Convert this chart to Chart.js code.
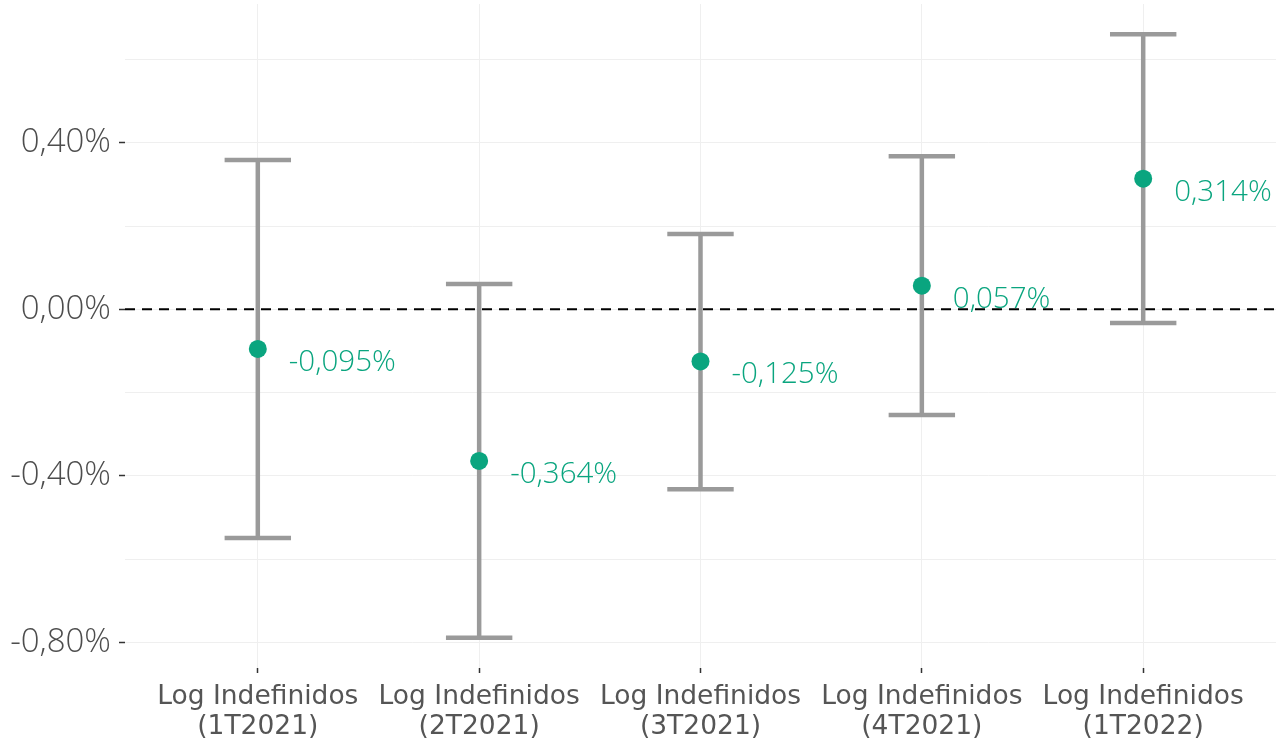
<!DOCTYPE html>
<html>
<head>
<meta charset="utf-8">
<script src="https://cdn.jsdelivr.net/npm/chart.js@4/dist/chart.umd.min.js"></script>
<style>
  html, body { margin: 0; padding: 0; background: #ffffff; }
  #wrap { width: 1277px; height: 744px; position: relative; }
</style>
</head>
<body>
<div id="wrap"><canvas id="chart"></canvas></div>
<script>
// Quarterly coefficient estimates (%) with 95% confidence bounds
const categories = [
  ["Log Indefinidos", "(1T2021)"],
  ["Log Indefinidos", "(2T2021)"],
  ["Log Indefinidos", "(3T2021)"],
  ["Log Indefinidos", "(4T2021)"],
  ["Log Indefinidos", "(1T2022)"]
];
const estimates   = [-0.095, -0.364, -0.125, 0.057, 0.314];
const lowerBounds = [-0.549, -0.789, -0.432, -0.254, -0.033];
const upperBounds = [ 0.359,  0.061,  0.181,  0.368,  0.661];

// Gridlines every 0.2 pt, labels every 0.4 pt
const yGridValues  = [-0.8, -0.6, -0.4, -0.2, 0, 0.2, 0.4, 0.6];
const yLabelValues = [-0.8, -0.4, 0, 0.4];

const NUM_FONT = "'Open Sans', 'DejaVu Sans', sans-serif";
const CAT_FONT = "'DejaVu Sans', 'Open Sans', sans-serif";
const GREEN = '#0aa57f';
const GREY_BAR = '#9a9a9a';
const TEXT_GREY = '#4d4d4d';
const CAP_HALF = 0.15;

const fmtPct = v => v.toFixed(3).replace('.', ',') + '%';
const fmtAxis = v => (Math.abs(v) < 1e-9 ? 0 : v).toFixed(2).replace('.', ',') + '%';
const isLabelled = v => yLabelValues.some(t => Math.abs(t - v) < 1e-9);

// Vertical whiskers: one segment per category, separated by gaps
const whiskerData = [];
categories.forEach((c, i) => {
  whiskerData.push({ x: i, y: lowerBounds[i] }, { x: i, y: upperBounds[i] }, { x: i, y: null });
});
// Horizontal caps at both ends of each whisker
const capData = [];
categories.forEach((c, i) => {
  capData.push({ x: i - CAP_HALF, y: upperBounds[i] }, { x: i + CAP_HALF, y: upperBounds[i] }, { x: i, y: null });
  capData.push({ x: i - CAP_HALF, y: lowerBounds[i] }, { x: i + CAP_HALF, y: lowerBounds[i] }, { x: i, y: null });
});
const pointData = estimates.map((v, i) => ({ x: i, y: v }));

// Value labels placed beside each estimate point
const valueLabels = {
  id: 'valueLabels',
  afterDatasetsDraw(chart) {
    const meta = chart.getDatasetMeta(0);
    const ctx = chart.ctx;
    ctx.save();
    ctx.font = '300 29.5px ' + NUM_FONT;
    ctx.fillStyle = GREEN;
    ctx.textAlign = 'left';
    ctx.textBaseline = 'alphabetic';
    meta.data.forEach((el, i) => {
      ctx.fillText(fmtPct(estimates[i]), el.x + 31, el.y + 22);
    });
    ctx.restore();
  }
};

new Chart(document.getElementById('chart'), {
  type: 'scatter',
  data: {
    datasets: [
      {
        label: 'Estimación',
        data: pointData,
        backgroundColor: GREEN,
        borderColor: GREEN,
        borderWidth: 0,
        pointRadius: 9,
        order: 0
      },
      {
        label: 'Intervalo',
        data: whiskerData,
        showLine: true,
        spanGaps: false,
        borderColor: GREY_BAR,
        borderWidth: 4.5,
        pointRadius: 0,
        order: 1
      },
      {
        label: 'Extremos',
        data: capData,
        showLine: true,
        spanGaps: false,
        borderColor: GREY_BAR,
        borderWidth: 4.5,
        pointRadius: 0,
        order: 1
      },
      {
        label: 'Cero',
        data: [{ x: -0.6, y: 0 }, { x: 4.6, y: 0 }],
        showLine: true,
        borderColor: '#000000',
        borderWidth: 2,
        borderDash: [10, 7],
        pointRadius: 0,
        order: 3
      }
    ]
  },
  options: {
    responsive: true,
    maintainAspectRatio: false,
    animation: false,
    layout: { autoPadding: false, padding: { top: 4, right: 1, left: 0, bottom: 0 } },
    plugins: {
      legend: { display: false },
      tooltip: { enabled: false }
    },
    scales: {
      x: {
        type: 'linear',
        min: -0.6,
        max: 4.6,
        afterBuildTicks: s => { s.ticks = categories.map((c, i) => ({ value: i })); },
        afterFit: s => { s.height = 76; s.paddingLeft = 0; s.paddingRight = 0; },
        border: { display: false },
        grid: {
          color: '#efefef',
          lineWidth: 1,
          tickColor: '#333333',
          tickLength: 5,
          tickWidth: 1.5
        },
        ticks: {
          autoSkip: false,
          maxRotation: 0,
          padding: 10,
          color: '#555555',
          font: { family: CAT_FONT, size: 26.5, weight: 400, lineHeight: 1.1 },
          callback: v => categories[Math.round(v)]
        }
      },
      y: {
        type: 'linear',
        min: -0.8615,
        max: 0.7335,
        afterBuildTicks: s => { s.ticks = yGridValues.map(v => ({ value: v })); },
        afterFit: s => { s.width = 125; s.paddingTop = 0; s.paddingBottom = 0; },
        border: { display: false },
        grid: {
          color: '#efefef',
          lineWidth: 1,
          tickLength: 6,
          tickWidth: 1.5,
          tickColor: ctx => (ctx.tick && isLabelled(ctx.tick.value)) ? '#333333' : 'rgba(0,0,0,0)'
        },
        ticks: {
          padding: 8,
          color: TEXT_GREY,
          font: { family: NUM_FONT, size: 33, weight: 300 },
          callback: v => isLabelled(v) ? fmtAxis(v) : ''
        }
      }
    }
  },
  plugins: [valueLabels]
});
</script>
</body>
</html>
